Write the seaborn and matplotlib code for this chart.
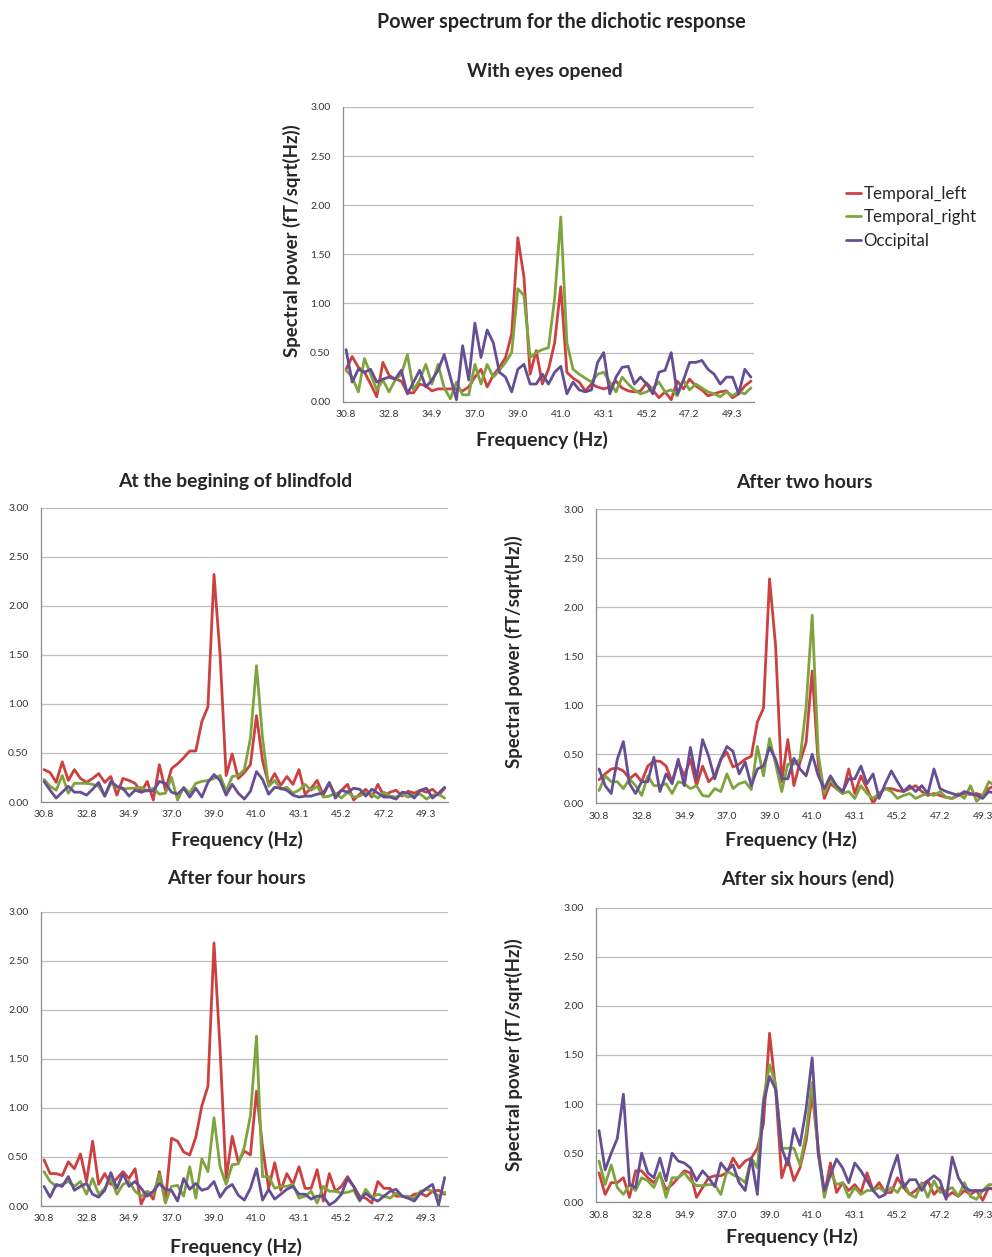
"""Power spectrum for the dichotic response - five Excel-style line panels."""
import matplotlib
matplotlib.use("Agg")
import matplotlib.pyplot as plt
import pandas as pd
import seaborn as sns
from matplotlib.ticker import FixedLocator, FormatStrFormatter, MultipleLocator

# ----- data ------------------------------------------------------------------
FREQ = [30.76, 31.05, 31.35, 31.64, 31.93, 32.23, 32.52, 32.81, 33.10, 33.40,
        33.69, 33.98, 34.28, 34.57, 34.86, 35.16, 35.45, 35.74, 36.03, 36.33,
        36.62, 36.91, 37.21, 37.50, 37.79, 38.09, 38.38, 38.67, 38.96, 39.26,
        39.55, 39.84, 40.14, 40.43, 40.72, 41.02, 41.31, 41.60, 41.89, 42.19,
        42.48, 42.77, 43.07, 43.36, 43.65, 43.95, 44.24, 44.53, 44.82, 45.12,
        45.41, 45.70, 46.00, 46.29, 46.58, 46.88, 47.17, 47.46, 47.75, 48.05,
        48.34, 48.63, 48.93, 49.22, 49.51, 49.81, 50.10]
TICK_LABELS = ["30.8", "32.8", "34.9", "37.0", "39.0",
               "41.0", "43.1", "45.2", "47.2", "49.3"]
SERIES = ["Temporal_left", "Temporal_right", "Occipital"]

# With eyes opened
OPEN_LEFT = [0.33, 0.46, 0.35, 0.30, 0.18, 0.05, 0.40, 0.27, 0.23, 0.21,
             0.09, 0.09, 0.18, 0.16, 0.11, 0.13, 0.13, 0.13, 0.13, 0.11,
             0.15, 0.25, 0.33, 0.15, 0.27, 0.35, 0.45, 0.69, 1.67, 1.27,
             0.28, 0.52, 0.18, 0.33, 0.60, 1.17, 0.30, 0.24, 0.20, 0.11,
             0.18, 0.15, 0.13, 0.15, 0.21, 0.14, 0.11, 0.10, 0.11, 0.19,
             0.12, 0.04, 0.10, 0.02, 0.21, 0.13, 0.23, 0.16, 0.12, 0.06,
             0.08, 0.10, 0.11, 0.04, 0.08, 0.16, 0.21]
OPEN_RIGHT = [0.32, 0.25, 0.10, 0.44, 0.28, 0.12, 0.22, 0.10, 0.22, 0.28,
              0.48, 0.12, 0.22, 0.38, 0.18, 0.38, 0.14, 0.03, 0.20, 0.07,
              0.07, 0.38, 0.18, 0.38, 0.25, 0.32, 0.40, 0.50, 1.15, 1.08,
              0.45, 0.50, 0.53, 0.55, 1.05, 1.88, 0.60, 0.33, 0.28, 0.24,
              0.20, 0.28, 0.30, 0.20, 0.10, 0.25, 0.18, 0.12, 0.08, 0.10,
              0.14, 0.20, 0.10, 0.12, 0.06, 0.22, 0.12, 0.18, 0.14, 0.10,
              0.08, 0.05, 0.10, 0.06, 0.10, 0.08, 0.14]
OPEN_OCC = [0.53, 0.20, 0.33, 0.30, 0.33, 0.20, 0.23, 0.25, 0.23, 0.32,
            0.08, 0.20, 0.32, 0.15, 0.22, 0.32, 0.48, 0.25, 0.02, 0.57,
            0.22, 0.80, 0.45, 0.73, 0.60, 0.30, 0.25, 0.10, 0.33, 0.38,
            0.18, 0.18, 0.28, 0.18, 0.30, 0.36, 0.08, 0.20, 0.12, 0.10,
            0.12, 0.40, 0.50, 0.08, 0.25, 0.35, 0.36, 0.18, 0.25, 0.18,
            0.08, 0.30, 0.32, 0.50, 0.08, 0.22, 0.40, 0.40, 0.42, 0.33,
            0.28, 0.18, 0.25, 0.25, 0.08, 0.33, 0.25]

# At the begining of blindfold
BLIND_LEFT = [0.33, 0.30, 0.20, 0.41, 0.22, 0.33, 0.24, 0.20, 0.24, 0.29,
              0.20, 0.26, 0.07, 0.24, 0.22, 0.19, 0.10, 0.21, 0.02, 0.38,
              0.12, 0.34, 0.39, 0.45, 0.52, 0.52, 0.82, 0.97, 2.32, 1.50,
              0.27, 0.49, 0.24, 0.30, 0.38, 0.88, 0.42, 0.18, 0.29, 0.17,
              0.26, 0.18, 0.33, 0.08, 0.14, 0.22, 0.07, 0.19, 0.07, 0.12,
              0.18, 0.02, 0.08, 0.13, 0.05, 0.18, 0.06, 0.10, 0.12, 0.06,
              0.11, 0.09, 0.12, 0.10, 0.13, 0.07, 0.14]
BLIND_RIGHT = [0.23, 0.16, 0.12, 0.27, 0.09, 0.19, 0.19, 0.19, 0.18, 0.16,
               0.06, 0.19, 0.15, 0.13, 0.14, 0.14, 0.15, 0.11, 0.14, 0.08,
               0.09, 0.25, 0.02, 0.15, 0.09, 0.19, 0.21, 0.22, 0.24, 0.27,
               0.11, 0.26, 0.27, 0.33, 0.65, 1.39, 0.65, 0.16, 0.22, 0.13,
               0.15, 0.09, 0.12, 0.18, 0.12, 0.16, 0.05, 0.06, 0.09, 0.04,
               0.10, 0.05, 0.06, 0.10, 0.08, 0.04, 0.10, 0.06, 0.05, 0.08,
               0.05, 0.07, 0.08, 0.03, 0.07, 0.08, 0.04]
BLIND_OCC = [0.21, 0.12, 0.04, 0.10, 0.16, 0.10, 0.10, 0.07, 0.13, 0.20,
             0.06, 0.21, 0.16, 0.14, 0.06, 0.12, 0.10, 0.12, 0.11, 0.21,
             0.19, 0.10, 0.08, 0.14, 0.05, 0.14, 0.05, 0.20, 0.28, 0.22,
             0.07, 0.18, 0.09, 0.03, 0.11, 0.31, 0.23, 0.08, 0.15, 0.14,
             0.12, 0.07, 0.05, 0.06, 0.06, 0.08, 0.09, 0.20, 0.04, 0.12,
             0.10, 0.14, 0.13, 0.06, 0.13, 0.09, 0.05, 0.05, 0.03, 0.10,
             0.09, 0.04, 0.12, 0.14, 0.04, 0.09, 0.15]

# After two hours
TWO_LEFT = [0.24, 0.30, 0.35, 0.36, 0.33, 0.25, 0.30, 0.22, 0.38, 0.43,
            0.43, 0.38, 0.22, 0.42, 0.28, 0.45, 0.18, 0.38, 0.22, 0.28,
            0.45, 0.52, 0.37, 0.40, 0.45, 0.48, 0.83, 0.97, 2.29, 1.60,
            0.22, 0.65, 0.18, 0.42, 0.62, 1.35, 0.40, 0.05, 0.20, 0.15,
            0.10, 0.35, 0.10, 0.28, 0.15, 0.00, 0.10, 0.15, 0.15, 0.13,
            0.12, 0.15, 0.18, 0.12, 0.08, 0.10, 0.08, 0.06, 0.05, 0.08,
            0.10, 0.09, 0.10, 0.08, 0.15, 0.18, 0.20]
TWO_RIGHT = [0.13, 0.28, 0.22, 0.22, 0.15, 0.25, 0.18, 0.08, 0.28, 0.18,
             0.18, 0.20, 0.10, 0.22, 0.20, 0.15, 0.18, 0.08, 0.07, 0.15,
             0.12, 0.30, 0.15, 0.20, 0.22, 0.14, 0.58, 0.28, 0.66, 0.40,
             0.12, 0.40, 0.40, 0.45, 0.98, 1.92, 0.50, 0.10, 0.25, 0.15,
             0.10, 0.12, 0.05, 0.18, 0.10, 0.05, 0.10, 0.15, 0.12, 0.05,
             0.08, 0.10, 0.05, 0.08, 0.10, 0.08, 0.12, 0.06, 0.05, 0.10,
             0.05, 0.18, 0.02, 0.08, 0.22, 0.18, 0.15]
TWO_OCC = [0.35, 0.18, 0.10, 0.45, 0.63, 0.20, 0.10, 0.22, 0.22, 0.47,
           0.12, 0.30, 0.20, 0.45, 0.18, 0.57, 0.25, 0.65, 0.48, 0.25,
           0.45, 0.58, 0.53, 0.30, 0.42, 0.18, 0.35, 0.38, 0.57, 0.45,
           0.25, 0.25, 0.46, 0.35, 0.28, 0.50, 0.28, 0.15, 0.28, 0.18,
           0.12, 0.25, 0.25, 0.38, 0.20, 0.30, 0.05, 0.20, 0.33, 0.22,
           0.12, 0.18, 0.12, 0.18, 0.10, 0.35, 0.15, 0.12, 0.10, 0.08,
           0.12, 0.10, 0.08, 0.05, 0.12, 0.10, 0.12]

# After four hours
FOUR_LEFT = [0.47, 0.33, 0.33, 0.31, 0.45, 0.38, 0.53, 0.25, 0.66, 0.22,
             0.33, 0.22, 0.28, 0.35, 0.28, 0.38, 0.02, 0.15, 0.07, 0.35,
             0.05, 0.69, 0.66, 0.55, 0.52, 0.70, 1.02, 1.22, 2.68, 1.60,
             0.28, 0.71, 0.45, 0.56, 0.52, 1.17, 0.60, 0.18, 0.44, 0.16,
             0.33, 0.22, 0.40, 0.18, 0.18, 0.37, 0.05, 0.33, 0.15, 0.20,
             0.30, 0.20, 0.10, 0.08, 0.03, 0.25, 0.18, 0.18, 0.10, 0.10,
             0.08, 0.12, 0.13, 0.10, 0.15, 0.16, 0.12]
FOUR_RIGHT = [0.35, 0.25, 0.20, 0.22, 0.25, 0.20, 0.25, 0.12, 0.28, 0.12,
              0.18, 0.28, 0.12, 0.22, 0.25, 0.15, 0.10, 0.15, 0.12, 0.32,
              0.03, 0.20, 0.21, 0.10, 0.40, 0.08, 0.48, 0.35, 0.90, 0.40,
              0.22, 0.42, 0.43, 0.60, 0.92, 1.73, 0.30, 0.30, 0.18, 0.20,
              0.20, 0.22, 0.08, 0.10, 0.15, 0.03, 0.20, 0.15, 0.15, 0.13,
              0.14, 0.16, 0.05, 0.17, 0.09, 0.12, 0.10, 0.08, 0.13, 0.10,
              0.10, 0.08, 0.15, 0.17, 0.15, 0.10, 0.14]
FOUR_OCC = [0.20, 0.09, 0.22, 0.20, 0.30, 0.16, 0.20, 0.23, 0.12, 0.09,
            0.16, 0.34, 0.18, 0.33, 0.20, 0.25, 0.18, 0.10, 0.15, 0.23,
            0.17, 0.16, 0.05, 0.28, 0.17, 0.23, 0.16, 0.18, 0.25, 0.09,
            0.18, 0.22, 0.11, 0.06, 0.18, 0.38, 0.06, 0.17, 0.07, 0.12,
            0.17, 0.20, 0.12, 0.12, 0.07, 0.10, 0.10, 0.01, 0.05, 0.12,
            0.28, 0.20, 0.06, 0.13, 0.08, 0.05, 0.10, 0.15, 0.17, 0.10,
            0.08, 0.05, 0.13, 0.18, 0.22, 0.01, 0.29]

# After six hours (end)
SIX_LEFT = [0.30, 0.08, 0.20, 0.20, 0.25, 0.05, 0.32, 0.32, 0.25, 0.20,
            0.28, 0.13, 0.18, 0.25, 0.32, 0.30, 0.05, 0.15, 0.25, 0.27,
            0.27, 0.30, 0.45, 0.35, 0.42, 0.45, 0.55, 0.80, 1.72, 1.15,
            0.25, 0.45, 0.22, 0.35, 0.62, 1.10, 0.55, 0.08, 0.40, 0.10,
            0.20, 0.12, 0.18, 0.10, 0.30, 0.12, 0.20, 0.10, 0.10, 0.25,
            0.15, 0.08, 0.12, 0.18, 0.22, 0.08, 0.15, 0.05, 0.10, 0.06,
            0.12, 0.08, 0.12, 0.02, 0.15, 0.12, 0.14]
SIX_RIGHT = [0.42, 0.18, 0.38, 0.15, 0.08, 0.18, 0.12, 0.25, 0.22, 0.15,
             0.30, 0.05, 0.25, 0.25, 0.30, 0.22, 0.17, 0.17, 0.18, 0.18,
             0.08, 0.32, 0.28, 0.25, 0.20, 0.45, 0.35, 1.05, 1.40, 1.20,
             0.55, 0.55, 0.55, 0.38, 0.70, 1.22, 0.50, 0.05, 0.30, 0.18,
             0.20, 0.05, 0.15, 0.08, 0.12, 0.12, 0.15, 0.10, 0.15, 0.10,
             0.20, 0.08, 0.05, 0.20, 0.05, 0.22, 0.10, 0.12, 0.15, 0.06,
             0.20, 0.06, 0.03, 0.12, 0.18, 0.18, 0.16]
SIX_OCC = [0.73, 0.33, 0.50, 0.65, 1.10, 0.18, 0.15, 0.50, 0.30, 0.25,
           0.45, 0.22, 0.50, 0.42, 0.40, 0.35, 0.22, 0.32, 0.25, 0.16,
           0.40, 0.32, 0.38, 0.20, 0.12, 0.45, 0.08, 1.00, 1.28, 1.15,
           0.55, 0.38, 0.75, 0.58, 0.95, 1.47, 0.50, 0.12, 0.28, 0.44,
           0.35, 0.20, 0.40, 0.32, 0.22, 0.12, 0.05, 0.08, 0.30, 0.48,
           0.15, 0.23, 0.23, 0.12, 0.22, 0.27, 0.22, 0.03, 0.46, 0.25,
           0.15, 0.12, 0.12, 0.12, 0.14, 0.14, 0.14]

# ----- style -----------------------------------------------------------------
W, H = 992, 1257
PALETTE = {"Temporal_left": "#CC4040", "Temporal_right": "#7FA43E",
           "Occipital": "#654E94"}
GRID = "#BEBEBE"
AXIS = "#8C8C8C"
FONT = ["Lato", "DejaVu Sans"]

# (title, data, axes box in pixels: left, top(3.00), right, bottom(0.00),
#  title pos, xlabel pos, ylabel pos or None)
PANELS = [
    ("With eyes opened", (OPEN_LEFT, OPEN_RIGHT, OPEN_OCC),
     (343, 107, 754, 401.7), (545, 72), (542, 440), (292, 241)),
    ("At the begining of blindfold", (BLIND_LEFT, BLIND_RIGHT, BLIND_OCC),
     (41, 507.7, 447.7, 802), (235, 482), (237, 840), None),
    ("After two hours", (TWO_LEFT, TWO_RIGHT, TWO_OCC),
     (596, 509.3, 1004, 803.3), (804, 482), (791, 840), (514, 652)),
    ("After four hours", (FOUR_LEFT, FOUR_RIGHT, FOUR_OCC),
     (41, 911.5, 447.7, 1206), (236, 879), (236, 1247), None),
    ("After six hours (end)", (SIX_LEFT, SIX_RIGHT, SIX_OCC),
     (596, 907.5, 1004, 1202.3), (808, 879), (792, 1237), (514, 1055)),
]


def fx(x):
    return x / W


def fy(y):
    return 1 - y / H


def panel_frame(left, right, occ):
    n = len(FREQ)
    assert len(left) == len(right) == len(occ) == n, (len(left), len(right), len(occ))
    return pd.DataFrame({
        "pos": list(range(n)) * 3,
        "power": left + right + occ,
        "channel": [s for s in SERIES for _ in range(n)],
    })


def style_axis(ax):
    n = len(FREQ)
    ax.set_xlim(-0.5, n - 0.5)
    ax.set_ylim(0, 3)
    ax.yaxis.set_major_locator(MultipleLocator(0.5))
    ax.yaxis.set_major_formatter(FormatStrFormatter("%.2f"))
    ax.set_xticks(list(range(0, n, 7))[:len(TICK_LABELS)])
    ax.set_xticklabels(TICK_LABELS)
    ax.xaxis.set_minor_locator(FixedLocator([k - 0.5 for k in range(0, n, 10)]))
    ax.tick_params(axis="x", which="major", length=0, pad=6, labelsize=7.5,
                   labelcolor="#333333")
    ax.tick_params(axis="x", which="minor", length=4, width=0.8, color=AXIS,
                   direction="out")
    ax.tick_params(axis="y", length=3, width=0.8, color=AXIS, pad=6,
                   labelsize=7.5, labelcolor="#333333")
    ax.grid(axis="y", color=GRID, lw=0.9)
    ax.grid(axis="x", visible=False)
    ax.set_axisbelow(True)
    for side in ("top", "right"):
        ax.spines[side].set_visible(False)
    for side in ("left", "bottom"):
        ax.spines[side].set_color(AXIS)
        ax.spines[side].set_linewidth(0.9)
    ax.set_xlabel("")
    ax.set_ylabel("")


def main():
    sns.set_style("white")
    plt.rcParams["font.family"] = FONT

    fig = plt.figure(figsize=(W / 100, H / 100), dpi=100)
    fig.text(fx(561), fy(22), "Power spectrum for the dichotic response",
             ha="center", va="center", fontsize=14.2, fontweight="bold")

    handles, labels = None, None
    for i, (title, data, box, tpos, xpos, ypos) in enumerate(PANELS):
        l, t, r, b = box
        ax = fig.add_axes([fx(l), fy(b), (r - l) / W, (b - t) / H])
        df = panel_frame(*data)
        sns.lineplot(data=df, x="pos", y="power", hue="channel",
                     hue_order=SERIES, palette=PALETTE, lw=2.0, ax=ax,
                     legend=(i == 0), solid_joinstyle="round",
                     solid_capstyle="round")
        if i == 0:
            handles, labels = ax.get_legend_handles_labels()
            ax.get_legend().remove()
        style_axis(ax)

        fig.text(fx(tpos[0]), fy(tpos[1]), title, ha="center", va="center",
                 fontsize=13.9, fontweight="bold")
        fig.text(fx(xpos[0]), fy(xpos[1]), "Frequency (Hz)", ha="center",
                 va="center", fontsize=14, fontweight="bold")
        if ypos is not None:
            fig.text(fx(ypos[0]), fy(ypos[1]), "Spectral power (fT/sqrt(Hz))",
                     ha="center", va="center", rotation=90, fontsize=13.4,
                     fontweight="bold")

    fig.legend(handles, labels, loc="upper left",
               bbox_to_anchor=(fx(839), fy(179)), frameon=False,
               fontsize=12.2, handlelength=0.9, handletextpad=0.15,
               labelspacing=0.45, borderaxespad=0)

    fig.savefig("out.png", dpi=100)
    plt.close(fig)


if __name__ == "__main__":
    main()
